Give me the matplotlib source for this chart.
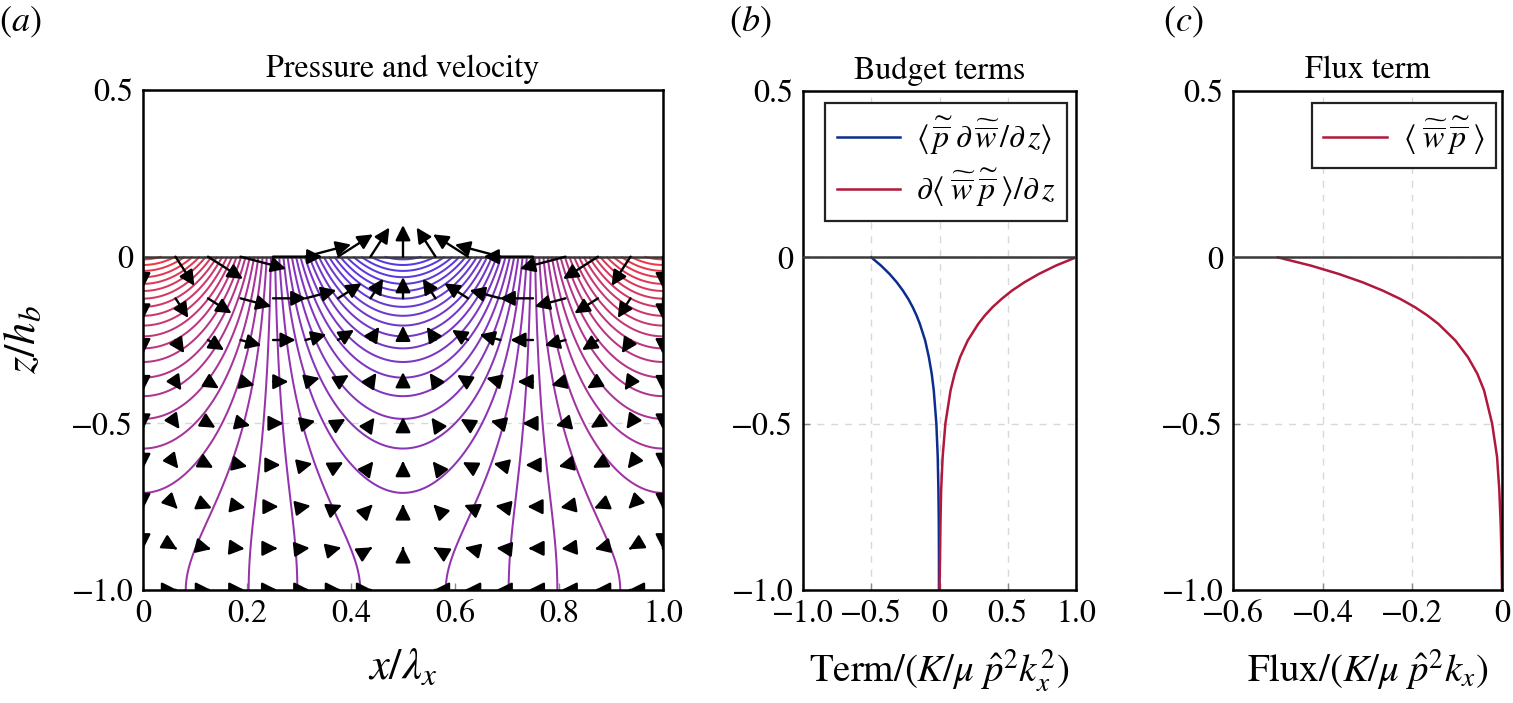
import matplotlib
matplotlib.use("Agg")
import matplotlib.pyplot as plt
import numpy as np
from matplotlib.colors import LinearSegmentedColormap
from matplotlib.patches import FancyArrowPatch
from matplotlib.ticker import FuncFormatter

plt.rcParams['font.family'] = ['STIXGeneral', 'DejaVu Serif']
plt.rcParams['mathtext.fontset'] = 'stix'

# panel (a): bed depth ratio (k_x h_b ~ pi)
kh = np.pi
p_levels = np.arange(-0.975, 1.0, 0.05)
arrow_x = np.linspace(0, 1, 17)
arrow_z = np.linspace(0, -1, 9)
arrow_scale = 0.095

# panels (b) and (c): profiles
z_prof = [0.0, -0.025, -0.05, -0.075, -0.1, -0.125, -0.15, -0.175, -0.2,
          -0.25, -0.3, -0.35, -0.4, -0.5, -0.6, -0.7, -0.8, -0.9, -1.0]
budget_p_dw = [-0.500, -0.428, -0.366, -0.313, -0.268, -0.229, -0.196, -0.168,
               -0.144, -0.105, -0.078, -0.057, -0.042, -0.023, -0.013, -0.008,
               -0.005, -0.004, -0.004]
budget_dflux = [1.000, 0.852, 0.728, 0.622, 0.531, 0.455, 0.388, 0.332, 0.284,
                0.207, 0.151, 0.111, 0.081, 0.043, 0.023, 0.012, 0.007, 0.004,
                0.000]
flux_wp = [-0.500, -0.426, -0.364, -0.311, -0.266, -0.227, -0.194, -0.166,
           -0.142, -0.104, -0.076, -0.055, -0.040, -0.022, -0.011, -0.006,
           -0.003, -0.001, 0.000]

blue = '#0b2d8f'
red = '#b0183c'
cmap = LinearSegmentedColormap.from_list('pr', ['#4d3ce6', '#9633ad', '#f23a3e'])

TICK = 23


def fmt(v, pos):
    if abs(v) < 1e-9:
        return '0'
    return ('%.1f' % v).replace('-', '\u2212')


def style(ax, xgrid=True):
    for s in ax.spines.values():
        s.set_linewidth(1.8)
        s.set_color('black')
    ax.tick_params(direction='in', length=5, width=1, color='#888888',
                   labelsize=TICK, pad=7, top=False, right=False)
    ax.xaxis.set_major_formatter(FuncFormatter(fmt))
    ax.yaxis.set_major_formatter(FuncFormatter(fmt))
    ax.grid(True, axis='both' if xgrid else 'y', ls=(0, (5, 5)),
            color='#d8d8d8', lw=1)
    ax.set_axisbelow(True)
    ax.axhline(0, color='#3a3a3a', lw=1.8, zorder=3)
    ax.set_ylim(-1, 0.5)
    ax.set_yticks([-1.0, -0.5, 0, 0.5])


fig = plt.figure(figsize=(15.13, 7.03), dpi=100)
H = 703.0
W = 1513.0
ax_a = fig.add_axes([143 / W, 113 / H, 520 / W, 500 / H])
ax_b = fig.add_axes([803 / W, 113 / H, 273 / W, 499 / H])
ax_c = fig.add_axes([1233 / W, 113 / H, 269 / W, 499 / H])

# ---- (a) pressure contours and velocity arrows
style(ax_a, xgrid=False)
xg = np.linspace(0, 1, 501)
zg = np.linspace(-1, 0, 301)
X, Z = np.meshgrid(xg, zg)
P = np.cos(2 * np.pi * X) * np.cosh(kh * (Z + 1)) / np.cosh(kh)
ax_a.contour(X, Z, P, levels=p_levels, cmap=cmap, vmin=-1, vmax=1,
             linewidths=1.45, zorder=2)

for xa in arrow_x:
    for za in arrow_z:
        u = np.sin(2 * np.pi * xa) * np.cosh(kh * (za + 1)) / np.cosh(kh)
        w = -np.cos(2 * np.pi * xa) * np.sinh(kh * (za + 1)) / np.cosh(kh)
        if np.hypot(u, w) < 1e-6:
            continue
        arr = FancyArrowPatch((xa, za), (xa + arrow_scale * u, za + arrow_scale * w),
                              arrowstyle='-|>,head_length=0.6,head_width=0.3',
                              mutation_scale=15, lw=1.7, color='black',
                              shrinkA=0, shrinkB=0, zorder=4)
        ax_a.add_patch(arr)

ax_a.set_xlim(0, 1)
ax_a.set_xticks([0, 0.2, 0.4, 0.6, 0.8, 1.0])
ax_a.set_title('Pressure and velocity', fontsize=23, pad=9)
ax_a.set_xlabel(r'$x/\lambda_x$', fontsize=32)
ax_a.xaxis.set_label_coords(0.5, -0.115)
ax_a.set_ylabel(r'$z/h_b$', fontsize=32)
ax_a.yaxis.set_label_coords(-0.19, 0.5)

# ---- (b) budget terms
style(ax_b)
ax_b.plot(budget_p_dw, z_prof, color=blue, lw=1.8,
          label=r'$\langle\,\widetilde{\overline{p}}\;\partial\,\widetilde{\overline{w}}\,/\partial\, z\rangle$')
ax_b.plot(budget_dflux, z_prof, color=red, lw=1.8,
          label=r'$\partial\langle\;\widetilde{\overline{w}}\;\widetilde{\overline{p}}\;\rangle/\partial\, z$')
ax_b.set_xlim(-1, 1)
ax_b.set_xticks([-1.0, -0.5, 0, 0.5, 1.0])
ax_b.set_title('Budget terms', fontsize=23, pad=9)
ax_b.set_xlabel(r'$\mathrm{Term}/(K/\mu\ \hat{p}^2k_x^2)$', fontsize=28)
ax_b.xaxis.set_label_coords(0.5, -0.115)
leg = ax_b.legend(loc='upper right', bbox_to_anchor=(0.967, 0.976), fontsize=23,
                  fancybox=False, framealpha=1, edgecolor='#222222',
                  handlelength=2.0, borderpad=0.35, labelspacing=0.3,
                  handletextpad=0.5, borderaxespad=0)
leg.get_frame().set_linewidth(1.6)

# ---- (c) flux term
style(ax_c)
ax_c.plot(flux_wp, z_prof, color=red, lw=1.8,
          label=r'$\langle\;\widetilde{\overline{w}}\;\widetilde{\overline{p}}\;\rangle$')
ax_c.set_xlim(-0.6, 0)
ax_c.set_xticks([-0.6, -0.4, -0.2, 0])
ax_c.set_title('Flux term', fontsize=23, pad=9)
ax_c.set_xlabel(r'$\mathrm{Flux}/(K/\mu\ \hat{p}^2k_x)$', fontsize=28)
ax_c.xaxis.set_label_coords(0.5, -0.115)
leg = ax_c.legend(loc='upper right', bbox_to_anchor=(0.978, 0.976), fontsize=23,
                  fancybox=False, framealpha=1, edgecolor='#222222',
                  handlelength=2.0, borderpad=0.35, handletextpad=0.5,
                  borderaxespad=0)
leg.get_frame().set_linewidth(1.6)

# panel letters
fig.text(20 / W, 1 - 22 / H, r'($a$)', fontsize=26, ha='center', va='center')
fig.text(750 / W, 1 - 22 / H, r'($b$)', fontsize=26, ha='center', va='center')
fig.text(1183 / W, 1 - 22 / H, r'($c$)', fontsize=26, ha='center', va='center')

fig.savefig('out.png', dpi=100)
